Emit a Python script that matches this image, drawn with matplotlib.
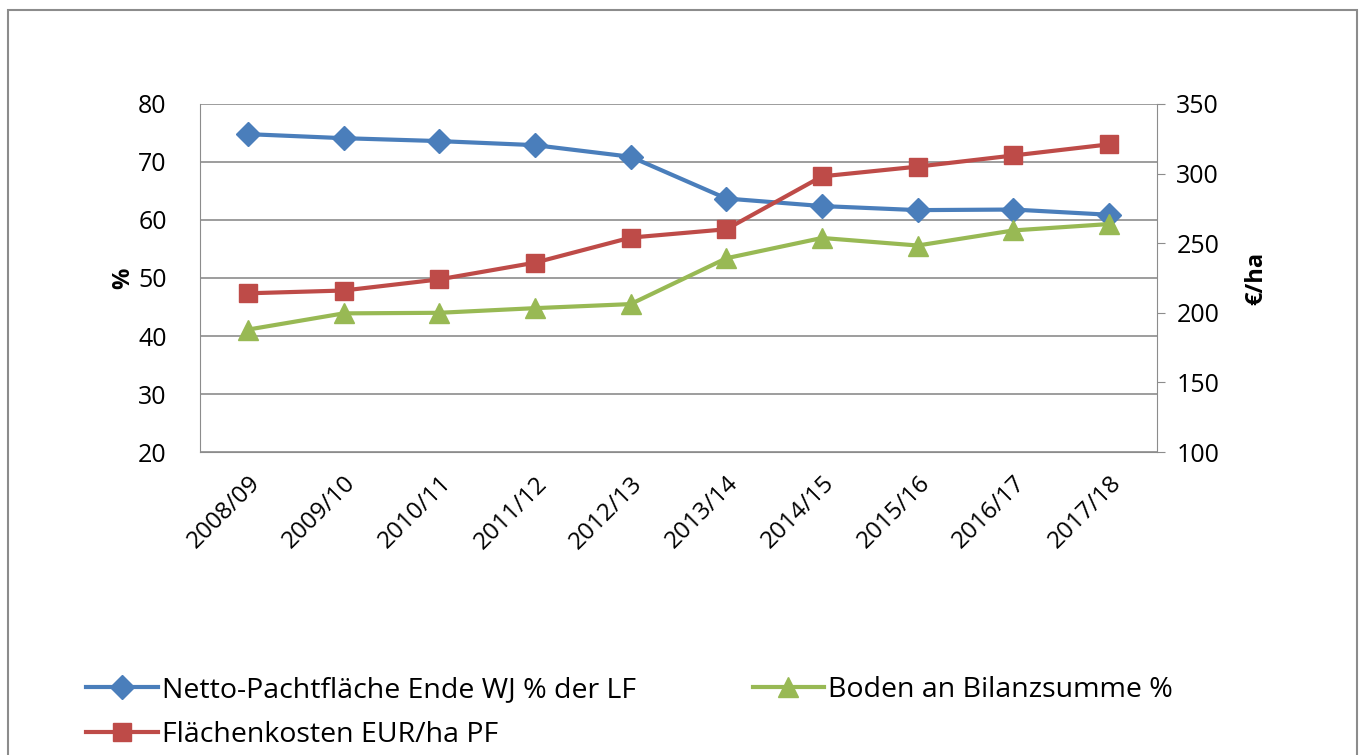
import matplotlib
matplotlib.use("Agg")
import matplotlib.pyplot as plt
from matplotlib.patches import Rectangle

categories = ["2008/09", "2009/10", "2010/11", "2011/12", "2012/13",
              "2013/14", "2014/15", "2015/16", "2016/17", "2017/18"]
netto_pacht = [74.8, 74.1, 73.6, 72.9, 70.9, 63.7, 62.4, 61.7, 61.8, 60.9]
boden_bilanz = [41.1, 43.9, 44.0, 44.8, 45.5, 53.4, 56.9, 55.6, 58.2, 59.3]
flaechenkosten = [214, 216, 224, 236, 254, 260, 298, 305, 313, 321]

label_netto = "Netto-Pachtfläche Ende WJ % der LF"
label_boden = "Boden an Bilanzsumme %"
label_kosten = "Flächenkosten EUR/ha PF"

c_blue = "#4A7EBB"
c_red = "#BE4B48"
c_green = "#98B954"

plt.rcParams['font.family'] = ['Open Sans', 'DejaVu Sans']

fig = plt.figure(figsize=(13.65, 7.55), dpi=100)
fig.patches.append(Rectangle((0.006, -0.01), 0.988, 0.997, transform=fig.transFigure,
                             fill=False, edgecolor="#8c8c8c", linewidth=1.5))

ax = fig.add_axes([0.1465, 0.4013, 0.7011, 0.461])
ax2 = ax.twinx()

x = list(range(len(categories)))
l1, = ax.plot(x, netto_pacht, color=c_blue, lw=3, marker="D", ms=12, zorder=3)
l3, = ax.plot(x, boden_bilanz, color=c_green, lw=3, marker="^", ms=14, zorder=4)
l2, = ax2.plot(x, flaechenkosten, color=c_red, lw=3, marker="s", ms=13, zorder=3)

ax.set_xlim(-0.5, len(categories) - 0.5)
ax.set_ylim(20, 80)
ax.set_yticks(range(20, 81, 10))
ax2.set_ylim(100, 350)
ax2.set_yticks(range(100, 351, 50))

ax.grid(axis="y", color="#8c8c8c", lw=1.2)
ax.set_axisbelow(True)
for s in ["top", "right"]:
    ax.spines[s].set_visible(False)
ax.spines["left"].set_color("#8c8c8c")
ax.spines["bottom"].set_color("#8c8c8c")
ax2.spines["top"].set_visible(False)
ax2.spines["left"].set_visible(False)
ax2.spines["bottom"].set_visible(False)
ax2.spines["right"].set_color("#8c8c8c")

ax.set_xticks(x)
ax.set_xticklabels(categories, rotation=45, ha="right", rotation_mode="anchor", fontsize=17.5)
ax.tick_params(axis="x", length=0, pad=14)
ax.tick_params(axis="y", length=0, labelsize=18, pad=24)
ax2.tick_params(axis="y", length=6, color="#8c8c8c", labelsize=18, pad=8)

ax.set_ylabel("%", fontsize=17, fontweight="bold", labelpad=2)
ax2.set_ylabel("€/ha", fontsize=17, fontweight="bold", labelpad=18)

fig.legend([l1, l2, l3], [label_netto, label_kosten, label_boden],
           ncol=2, loc="upper left", bbox_to_anchor=(0.055, 0.12),
           frameon=False, fontsize=20.5, handlelength=2.5, columnspacing=4.1,
           labelspacing=0.6, handletextpad=0.15, borderaxespad=0)

fig.savefig("out.png", dpi=100)
